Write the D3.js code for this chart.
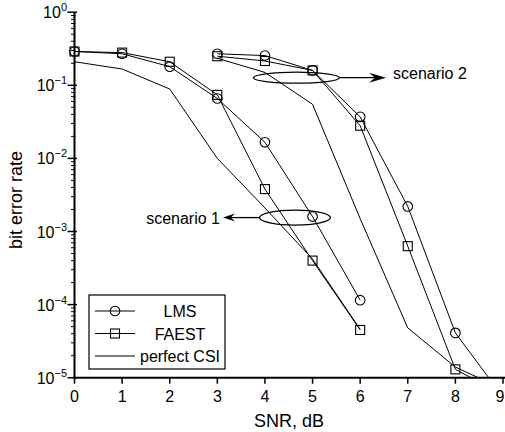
<!DOCTYPE html>
<html>
<head>
<meta charset="utf-8">
<script src="https://cdn.jsdelivr.net/npm/d3@7"></script>
<style>
  body { margin: 0; background: #fff; }
  svg text { font-family: "Liberation Sans", Arial, sans-serif; fill: #000; }
</style>
</head>
<body>
<div id="chart"></div>
<script>
// SNR values (dB)
const snr = [0, 1, 2, 3, 4, 5, 6, 7, 8];

// scenario 1
const lms1 = [[0, 0.29], [1, 0.27], [2, 0.18], [3, 0.066], [4, 0.0166], [5, 0.0016], [6, 1.15e-4]];
const faest1 = [[0, 0.29], [1, 0.28], [2, 0.21], [3, 0.074], [4, 0.0038], [5, 4.0e-4], [6, 4.5e-5]];
const csi1 = [[0, 0.21], [1, 0.167], [2, 0.089], [3, 0.01], [4, 0.0021], [5, 4.2e-4], [6, 4.6e-5]];

// scenario 2
const lms2 = [[3, 0.27], [4, 0.255], [5, 0.16], [6, 0.037], [7, 0.0022], [8, 4.1e-5], [8.7, 1e-5]];
const faest2 = [[3, 0.25], [4, 0.215], [5, 0.16], [6, 0.028], [7, 6.3e-4], [8, 1.3e-5], [8.33, 1e-5]];
const csi2 = [[3, 0.234], [4, 0.15], [5, 0.055], [6, 0.0015], [7, 4.8e-5], [8, 1.4e-5], [8.48, 1e-5]];

const yTickVals = [1, 1e-1, 1e-2, 1e-3, 1e-4, 1e-5];
const yTickExp = ["0", "\u22121", "\u22122", "\u22123", "\u22124", "\u22125"];
const xTickVals = [0, 1, 2, 3, 4, 5, 6, 7, 8, 9];

const legendItems = [
  { label: "LMS", marker: "circle" },
  { label: "FAEST", marker: "square" },
  { label: "perfect CSI", marker: null }
];

const W = 505, H = 432;
const PLOT = { left: 74.5, right: 503, top: 12.2, bottom: 377.7 };

const svg = d3.select("#chart").append("svg")
  .attr("width", W)
  .attr("height", H);

const x = d3.scaleLinear().domain([0, 9]).range([PLOT.left, PLOT.right]);
const y = d3.scaleLog().domain([1e-5, 1]).range([PLOT.bottom, PLOT.top]);

// minor ticks on y axis
const minor = [];
for (let e = -5; e < 0; e++) {
  for (let m = 2; m <= 9; m++) minor.push(m * Math.pow(10, e));
}
svg.append("g").selectAll("line").data(minor).join("line")
  .attr("x1", PLOT.left - 3.5).attr("x2", PLOT.left + 1)
  .attr("y1", d => y(d)).attr("y2", d => y(d))
  .attr("stroke", "#000").attr("stroke-width", 1);

// major y ticks
svg.append("g").selectAll("line").data(yTickVals).join("line")
  .attr("x1", PLOT.left - 7).attr("x2", PLOT.left + 2.5)
  .attr("y1", d => y(d)).attr("y2", d => y(d))
  .attr("stroke", "#000").attr("stroke-width", 1.5);

const yl = svg.append("g").selectAll("text").data(yTickVals).join("text")
  .attr("x", 67)
  .attr("y", d => y(d) + 6)
  .attr("text-anchor", "end")
  .attr("font-size", 16);
yl.append("tspan").text("10");
yl.append("tspan").attr("dy", -7).attr("font-size", 11).text((d, i) => yTickExp[i]);

// x ticks
svg.append("g").selectAll("line").data(xTickVals).join("line")
  .attr("x1", d => x(d)).attr("x2", d => x(d))
  .attr("y1", PLOT.bottom).attr("y2", PLOT.bottom + 6)
  .attr("stroke", "#000").attr("stroke-width", 1.5);

// last label sits at the window edge, keep it inside
svg.append("g").selectAll("text").data(xTickVals).join("text")
  .attr("x", d => Math.min(x(d), W - 5))
  .attr("y", 401.5)
  .attr("text-anchor", "middle")
  .attr("font-size", 16)
  .text(d => d);

// axis lines
svg.append("line")
  .attr("x1", PLOT.left).attr("x2", PLOT.left)
  .attr("y1", PLOT.top).attr("y2", PLOT.bottom + 1)
  .attr("stroke", "#000").attr("stroke-width", 2);
svg.append("line")
  .attr("x1", PLOT.left - 1).attr("x2", W)
  .attr("y1", PLOT.bottom).attr("y2", PLOT.bottom)
  .attr("stroke", "#000").attr("stroke-width", 2);

// axis titles
svg.append("text")
  .attr("x", 289).attr("y", 426.5)
  .attr("text-anchor", "middle")
  .attr("font-size", 18)
  .text("SNR, dB");
svg.append("text")
  .attr("transform", `translate(22, 200) rotate(-90)`)
  .attr("text-anchor", "middle")
  .attr("font-size", 18)
  .text("bit error rate");

// series
const line = d3.line().x(d => x(d[0])).y(d => y(d[1]));
const plot = svg.append("g");

const series = [
  { data: csi1, marker: null },
  { data: csi2, marker: null },
  { data: lms1, marker: "circle" },
  { data: faest1, marker: "square" },
  { data: lms2, marker: "circle" },
  { data: faest2, marker: "square" }
];

const drawMarker = (g, type, cx, cy) => {
  if (type === "circle") {
    g.append("circle").attr("cx", cx).attr("cy", cy).attr("r", 4.8)
      .attr("fill", "none").attr("stroke", "#000").attr("stroke-width", 1.1);
  } else if (type === "square") {
    g.append("rect").attr("x", cx - 4.5).attr("y", cy - 4.5)
      .attr("width", 9).attr("height", 9)
      .attr("fill", "none").attr("stroke", "#000").attr("stroke-width", 1.1);
  }
};

series.forEach(s => {
  plot.append("path")
    .datum(s.data)
    .attr("d", line)
    .attr("fill", "none")
    .attr("stroke", "#000")
    .attr("stroke-width", 1);
  if (s.marker) {
    s.data.filter(d => snr.includes(d[0])).forEach(d => drawMarker(plot, s.marker, x(d[0]), y(d[1])));
  }
});

// annotations
const arrowHead = (tx, ty, dir, len, half) => {
  const b = tx - dir * len, n = tx - dir * len * 0.65;
  return `M${tx},${ty}L${b},${ty - half}L${n},${ty}L${b},${ty + half}Z`;
};

// scenario 2
const e2 = { cx: x(4.66), cy: y(0.127), rx: 43, ry: 5.5 };
svg.append("ellipse").attr("cx", e2.cx).attr("cy", e2.cy).attr("rx", e2.rx).attr("ry", e2.ry)
  .attr("fill", "none").attr("stroke", "#000").attr("stroke-width", 1.3);
svg.append("line").attr("x1", e2.cx + e2.rx).attr("x2", 380).attr("y1", e2.cy).attr("y2", e2.cy)
  .attr("stroke", "#000").attr("stroke-width", 1.3);
svg.append("path").attr("d", arrowHead(386, e2.cy, 1, 17, 5)).attr("fill", "#000");
svg.append("text").attr("x", 393).attr("y", e2.cy + 1.5).attr("font-size", 16).text("scenario 2");

// scenario 1
const e1 = { cx: x(4.63), cy: y(0.00155), rx: 35.5, ry: 7.5 };
svg.append("ellipse").attr("cx", e1.cx).attr("cy", e1.cy).attr("rx", e1.rx).attr("ry", e1.ry)
  .attr("fill", "none").attr("stroke", "#000").attr("stroke-width", 1.3);
svg.append("line").attr("x1", e1.cx - e1.rx).attr("x2", 228).attr("y1", e1.cy).attr("y2", e1.cy)
  .attr("stroke", "#000").attr("stroke-width", 1.3);
svg.append("path").attr("d", arrowHead(223, e1.cy, -1, 12, 4)).attr("fill", "#000");
svg.append("text").attr("x", 220).attr("y", e1.cy + 6).attr("text-anchor", "end")
  .attr("font-size", 16).text("scenario 1");

// legend
const lg = svg.append("g");
lg.append("rect").attr("x", 89).attr("y", 295).attr("width", 136).attr("height", 74)
  .attr("fill", "#fff").attr("stroke", "#000").attr("stroke-width", 1.2);
legendItems.forEach((item, i) => {
  const ly = 311 + i * 22.5;
  lg.append("line").attr("x1", 95).attr("x2", 135).attr("y1", ly).attr("y2", ly)
    .attr("stroke", "#000").attr("stroke-width", 1);
  drawMarker(lg, item.marker, 115, ly);
  lg.append("text").attr("x", 180).attr("y", ly + 6).attr("text-anchor", "middle")
    .attr("font-size", 16).text(item.label);
});
</script>
</body>
</html>
